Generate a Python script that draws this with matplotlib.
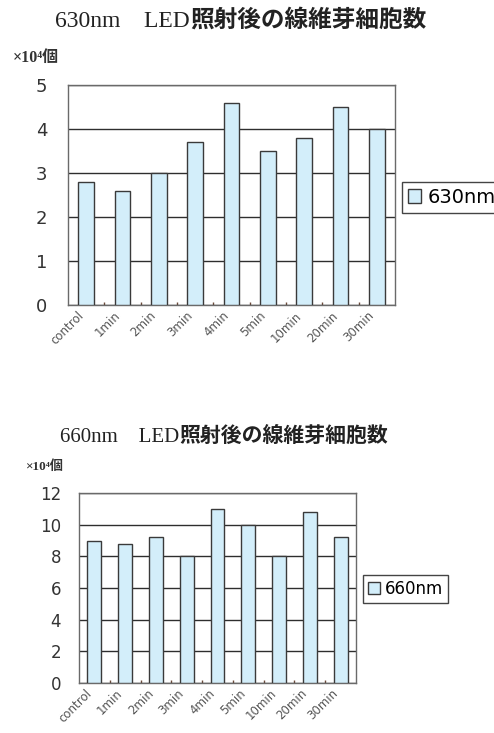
import matplotlib
matplotlib.use("Agg")
import matplotlib.pyplot as plt
from matplotlib.ticker import MultipleLocator, FixedLocator

# Data
categories = ["control", "1min", "2min", "3min", "4min", "5min", "10min", "20min", "30min"]
counts_630 = [2.8, 2.6, 3.0, 3.7, 4.6, 3.5, 3.8, 4.5, 4.0]
counts_660 = [9.0, 8.8, 9.2, 8.0, 11.0, 10.0, 8.0, 10.8, 9.2]
title_630 = ("630nm\u3000LED", "照射後の線維芽細胞数")
title_660 = ("660nm\u3000LED", "照射後の線維芽細胞数")
unit_label = "×10⁴個"
series_630 = "630nm"
series_660 = "660nm"

W, H = 494, 733
fig = plt.figure(figsize=(W / 100, H / 100), dpi=100)
fig.patch.set_facecolor("white")

BAR_FACE = "#d3eefa"
BAR_EDGE = "#3a3a3a"
GRID = "#2e2e2e"
SPINE = "#6a6a6a"
SERIF_JP = ["Liberation Serif", "Noto Sans CJK JP"]


def px_axes(left, top, right, bottom):
    return fig.add_axes([left / W, (H - bottom) / H, (right - left) / W, (bottom - top) / H])


def draw_panel(ax, values, ymax, ystep, label, tick_pad, ytick_size, legend_xy, legend_size, width):
    x = list(range(len(categories)))
    ax.bar(x, values, width=width, color=BAR_FACE, edgecolor=BAR_EDGE,
           linewidth=1.0, label=label, zorder=3)
    ax.set_xlim(-0.5, len(categories) - 0.5)
    ax.set_ylim(0, ymax)
    ax.yaxis.set_major_locator(MultipleLocator(ystep))
    ax.set_axisbelow(True)
    ax.grid(axis="y", color=GRID, linewidth=1.0)
    ax.grid(axis="x", visible=False)
    for s in ax.spines.values():
        s.set_color(SPINE)
        s.set_linewidth(1.0)
    ax.tick_params(axis="y", length=0, pad=tick_pad, labelsize=ytick_size, labelcolor="#333333")
    ax.set_xticks(x)
    ax.set_xticklabels(categories, rotation=45, ha="right", va="top",
                       rotation_mode="default", fontsize=8.5, color="#555555")
    ax.tick_params(axis="x", length=0, pad=3)
    ax.xaxis.set_minor_locator(FixedLocator([i + 0.5 for i in x[:-1]]))
    ax.tick_params(axis="x", which="minor", direction="in", length=2.5,
                   width=1.0, color="#6b4a3a")
    ax.legend(loc="upper left", bbox_to_anchor=(legend_xy[0] / W, 1 - legend_xy[1] / H),
              bbox_transform=fig.transFigure, frameon=True, fancybox=False,
              edgecolor="#444444", framealpha=1, borderpad=0.3, borderaxespad=0,
              handlelength=0.7, handleheight=0.7, handletextpad=0.3,
              prop={"family": "DejaVu Sans", "size": legend_size})


def draw_title(parts, x_left, baseline, size):
    t1 = fig.text(x_left / W, 1 - baseline / H, parts[0], ha="left", va="baseline",
                  fontsize=size, family=SERIF_JP, color="#222222")
    fig.canvas.draw()
    bb = t1.get_window_extent(renderer=fig.canvas.get_renderer())
    fig.text(bb.x1 / W, 1 - baseline / H, parts[1], ha="left", va="baseline",
             fontsize=size, family="Noto Sans CJK JP", fontweight="bold", color="#222222")


# 630 nm panel
ax1 = px_axes(68, 85, 395, 305)
draw_panel(ax1, counts_630, 5, 1, series_630, 15, 13, (402, 182), 14, 0.44)

# 660 nm panel
ax2 = px_axes(79, 493.3, 356, 682.7)
draw_panel(ax2, counts_660, 12, 2, series_660, 13, 12, (363, 575), 12, 0.45)

draw_title(title_630, 55, 27, 17)
draw_title(title_660, 60, 442, 15)

fig.text(13 / W, 1 - 62 / H, unit_label, ha="left", va="baseline", fontsize=11.5,
         family=SERIF_JP, fontweight="bold", color="#333333")
fig.text(25 / W, 1 - 470 / H, unit_label, ha="left", va="baseline", fontsize=9.5,
         family=SERIF_JP, fontweight="bold", color="#333333")

fig.savefig("out.png", dpi=100, facecolor="white")
